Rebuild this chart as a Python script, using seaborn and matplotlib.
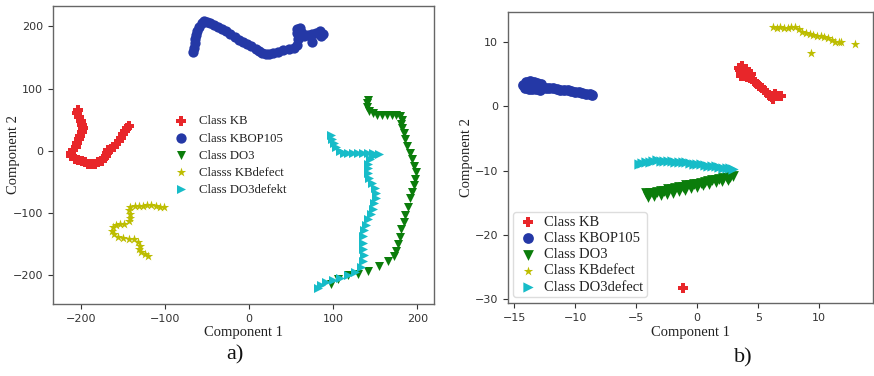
import matplotlib
matplotlib.use("Agg")
import matplotlib.pyplot as plt
import seaborn as sns
import pandas as pd

# ---------------- data: panel a ----------------
classes_a = ["Class KB", "Class KBOP105", "Class DO3", "Classs KBdefect", "Class DO3defekt"]
classes_b = ["Class KB", "Class KBOP105", "Class DO3", "Class KBdefect", "Class DO3defect"]

kb_a_x = [-203, -204, -202, -200, -198, -197, -199, -201, -202, -204, -206, -209, -212, -211, -207, -203,
          -199, -195, -191, -187, -183, -179, -175, -172, -170, -169, -167, -164, -161, -158, -155, -152,
          -150, -147, -145, -143]
kb_a_y = [66, 60, 54, 48, 42, 36, 30, 24, 18, 12, 6, 1, -4, -9, -13, -15, -17, -19, -21, -22, -21, -19,
          -16, -12, -8, -3, 1, 3, 6, 11, 16, 21, 26, 31, 36, 40]

kbop_a_x = [-66, -65, -64, -64, -63, -62, -59, -56, -53, -50, -46, -42, -37, -32, -27, -22, -17, -12, -7,
            -2, 3, 8, 12, 16, 20, 24, 29, 34, 41, 47, 53, 57, 58, 57, 57, 61, 63, 66, 70, 75, 80, 85, 88,
            86, 75]
kbop_a_y = [159, 166, 173, 180, 187, 193, 199, 205, 209, 208, 205, 202, 199, 196, 193, 188, 183, 179, 175,
            172, 168, 164, 160, 157, 155, 155, 157, 159, 162, 164, 166, 170, 180, 190, 196, 198, 190, 184,
            187, 188, 190, 192, 188, 184, 175]

do3_a_x = [141, 140, 140, 143, 147, 152, 158, 164, 170, 175, 180, 182, 181, 182, 184, 186, 188, 191, 194,
           196, 198, 197, 196, 194, 192, 189, 186, 184, 181, 179, 177, 175, 172, 165, 155, 142, 130, 118,
           106, 97]
do3_a_y = [82, 76, 70, 64, 60, 58, 57, 58, 58, 57, 56, 50, 43, 36, 28, 18, 8, -3, -14, -24, -35, -46, -56,
           -66, -77, -90, -103, -115, -127, -139, -151, -162, -170, -177, -186, -194, -198, -201, -207, -215]

kbd_a_x = [-101, -106, -111, -116, -121, -126, -131, -136, -141, -143, -142, -141, -143, -148, -153, -158,
           -162, -163, -160, -156, -150, -143, -137, -132, -130, -131, -128, -123, -120]
kbd_a_y = [-91, -90, -89, -88, -88, -89, -89, -89, -90, -96, -102, -108, -114, -118, -118, -119, -123, -129,
           -135, -139, -141, -142, -143, -147, -153, -159, -164, -167, -170]

do3d_a_x = [97, 99, 101, 104, 108, 113, 118, 124, 130, 136, 142, 148, 154, 148, 144, 142, 141, 142, 143,
            146, 150, 151, 151, 149, 147, 145, 142, 139, 137, 135, 135, 136, 137, 136, 133, 126, 118, 108,
            100, 92, 86, 82]
do3d_a_y = [25, 18, 12, 6, 0, -3, -4, -4, -4, -4, -3, -3, -5, -9, -14, -21, -28, -36, -44, -52, -60, -68,
            -76, -85, -94, -102, -110, -119, -128, -138, -148, -158, -168, -178, -188, -195, -200, -205,
            -208, -212, -216, -222]

# ---------------- data: panel b ----------------
kb_b_x = [3.4, 3.5, 3.6, 3.8, 3.9, 4.1, 4.3, 4.5, 4.7, 4.9, 5.1, 5.3, 5.5, 5.7, 5.9, 6.1, 6.3, 6.5, 6.7,
          6.9, 3.7, 4.0, 4.4, 3.6, 6.2, 6.4, -1.2]
kb_b_y = [6.0, 5.6, 5.2, 5.3, 4.8, 4.6, 4.4, 4.2, 3.8, 3.5, 3.2, 2.9, 2.5, 2.1, 1.8, 1.5, 1.7, 1.6, 1.7,
          1.6, 6.3, 5.8, 5.0, 4.7, 1.1, 2.0, -28.3]

kbop_b_x = [-14.3, -14.1, -13.9, -13.7, -13.5, -13.3, -13.1, -12.9, -12.7, -12.4, -12.1, -11.8, -11.5,
            -11.2, -10.9, -10.6, -10.3, -10.0, -9.7, -9.4, -9.1, -8.8, -8.6, -14.0, -13.7, -13.4, -13.1,
            -12.8, -14.1, -13.8, -13.5, -13.2, -12.9]
kbop_b_y = [3.3, 3.3, 3.3, 3.3, 3.2, 3.2, 3.1, 3.0, 3.0, 2.9, 2.8, 2.8, 2.7, 2.6, 2.55, 2.5, 2.4, 2.3, 2.2,
            2.15, 2.0, 1.9, 1.8, 3.8, 3.9, 3.8, 3.7, 3.5, 2.8, 2.7, 2.7, 2.7, 2.6]

do3_b_x = [-4.2, -3.9, -3.6, -3.3, -3.0, -2.7, -2.4, -2.1, -1.8, -1.5, -1.2, -0.9, -0.6, -0.3, 0.0, 0.3,
           0.6, 0.9, 1.2, 1.5, 1.8, 2.1, 2.4, 2.7, 2.95, -4.0, -3.5, -3.0, -2.5, -2.0, -1.5, -1.0, -0.5,
           0.0, 0.5, 1.0, 1.5, 2.0, 2.5]
do3_b_y = [-13.5, -13.5, -13.4, -13.3, -13.2, -13.1, -12.9, -12.8, -12.7, -12.6, -12.5, -12.3, -12.2,
           -12.1, -12.0, -11.9, -11.7, -11.6, -11.5, -11.4, -11.3, -11.2, -11.1, -11.0, -10.9, -14.1,
           -14.0, -13.8, -13.6, -13.4, -13.2, -13.0, -12.7, -12.5, -12.2, -12.0, -11.8, -11.6, -11.4]

kbd_b_x = [6.2, 6.5, 6.8, 7.1, 7.4, 7.7, 8.0, 8.3, 8.6, 8.9, 9.2, 9.5, 9.8, 10.1, 10.4, 10.7, 11.0, 11.3,
           11.6, 11.8, 12.9, 9.3]
kbd_b_y = [12.3, 12.2, 12.3, 12.2, 12.2, 12.3, 12.4, 12.0, 11.6, 11.4, 11.3, 11.1, 11.0, 10.9, 10.8, 10.6,
           10.3, 10.1, 10.0, 10.0, 9.7, 8.3]

do3d_b_x = [-4.8, -4.5, -4.2, -3.9, -3.6, -3.3, -3.0, -2.7, -2.4, -2.1, -1.8, -1.5, -1.2, -0.9, -0.6, -0.3,
            0.0, 0.3, 0.6, 0.9, 1.2, 1.5, 1.8, 2.1, 2.4, 2.7, 2.9]
do3d_b_y = [-8.9, -8.8, -8.7, -8.6, -8.5, -8.4, -8.5, -8.5, -8.5, -8.5, -8.6, -8.6, -8.7, -8.7, -8.8, -8.9,
            -8.9, -9.0, -9.1, -9.2, -9.2, -9.3, -9.4, -9.5, -9.6, -9.6, -9.8]

colors = ["#e8262a", "#2438a6", "#0b7d0b", "#bdbd00", "#17bcc8"]
markers = ["P", "o", "v", "*", ">"]

sns.set_style("white")
plt.rcParams["font.family"] = ["DejaVu Sans"]
serif = "Liberation Serif"

fig = plt.figure(figsize=(8.74, 3.76), dpi=100)
ax1 = fig.add_axes([0.0606, 0.1915, 0.436, 0.7926])
ax2 = fig.add_axes([0.5812, 0.194, 0.4177, 0.774])

data_a = [(kb_a_x, kb_a_y), (kbop_a_x, kbop_a_y), (do3_a_x, do3_a_y), (kbd_a_x, kbd_a_y), (do3d_a_x, do3d_a_y)]
data_b = [(kb_b_x, kb_b_y), (kbop_b_x, kbop_b_y), (do3_b_x, do3_b_y), (kbd_b_x, kbd_b_y), (do3d_b_x, do3d_b_y)]
sizes_a = [42, 55, 42, 50, 42]
sizes_b = [45, 60, 60, 50, 55]

for i, (x, y) in enumerate(data_a):
    df = pd.DataFrame({"x": x, "y": y})
    sns.scatterplot(data=df, x="x", y="y", ax=ax1, color=colors[i], marker=markers[i],
                    s=sizes_a[i], linewidth=0, label=classes_a[i])
for i, (x, y) in enumerate(data_b):
    df = pd.DataFrame({"x": x, "y": y})
    sns.scatterplot(data=df, x="x", y="y", ax=ax2, color=colors[i], marker=markers[i],
                    s=sizes_b[i], linewidth=0, label=classes_b[i])

ax1.set_xlim(-233, 220)
ax1.set_ylim(-247, 233)
ax1.set_xticks([-200, -100, 0, 100, 200])
ax1.set_yticks([-200, -100, 0, 100, 200])
ax2.set_xlim(-15.5, 14.4)
ax2.set_ylim(-30.6, 14.7)
ax2.set_xticks([-15, -10, -5, 0, 5, 10])
ax2.set_yticks([-30, -20, -10, 0, 10])

for ax in (ax1, ax2):
    for sp in ax.spines.values():
        sp.set_color("#666666")
        sp.set_linewidth(1.0)
    ax.tick_params(axis="both", which="both", direction="out", length=3.5, width=0.8,
                   labelsize=8, colors="#333333", left=True, bottom=True)
    ax.set_xlabel("Component 1", fontfamily=serif, fontsize=10.5, color="#222222", labelpad=2)
    ax.set_ylabel("Component 2", fontfamily=serif, fontsize=10.5, color="#222222")
ax1.yaxis.set_label_coords(-0.087, 0.5)
ax2.yaxis.set_label_coords(-0.096, 0.5)

leg1 = ax1.legend(loc="upper left", bbox_to_anchor=(0.29, 0.65), frameon=False,
                  prop={"family": serif, "size": 9.2}, labelspacing=0.4, handletextpad=0.4,
                  borderaxespad=0, markerscale=1.0)
leg2 = ax2.legend(loc="lower left", bbox_to_anchor=(0.014, 0.02), frameon=True,
                  prop={"family": serif, "size": 10.5}, labelspacing=0.2, handletextpad=0.3,
                  handlelength=1.6, borderpad=0.25, borderaxespad=0, fancybox=True, framealpha=1,
                  edgecolor="#dddddd")
for t in list(leg1.get_texts()) + list(leg2.get_texts()):
    t.set_color("#222222")

fig.text(0.269, 0.056, "a)", fontfamily=serif, fontsize=16, ha="center", va="center", color="#111111")
fig.text(0.85, 0.048, "b)", fontfamily=serif, fontsize=16, ha="center", va="center", color="#111111")

fig.savefig("out.png", dpi=100, facecolor="white")
